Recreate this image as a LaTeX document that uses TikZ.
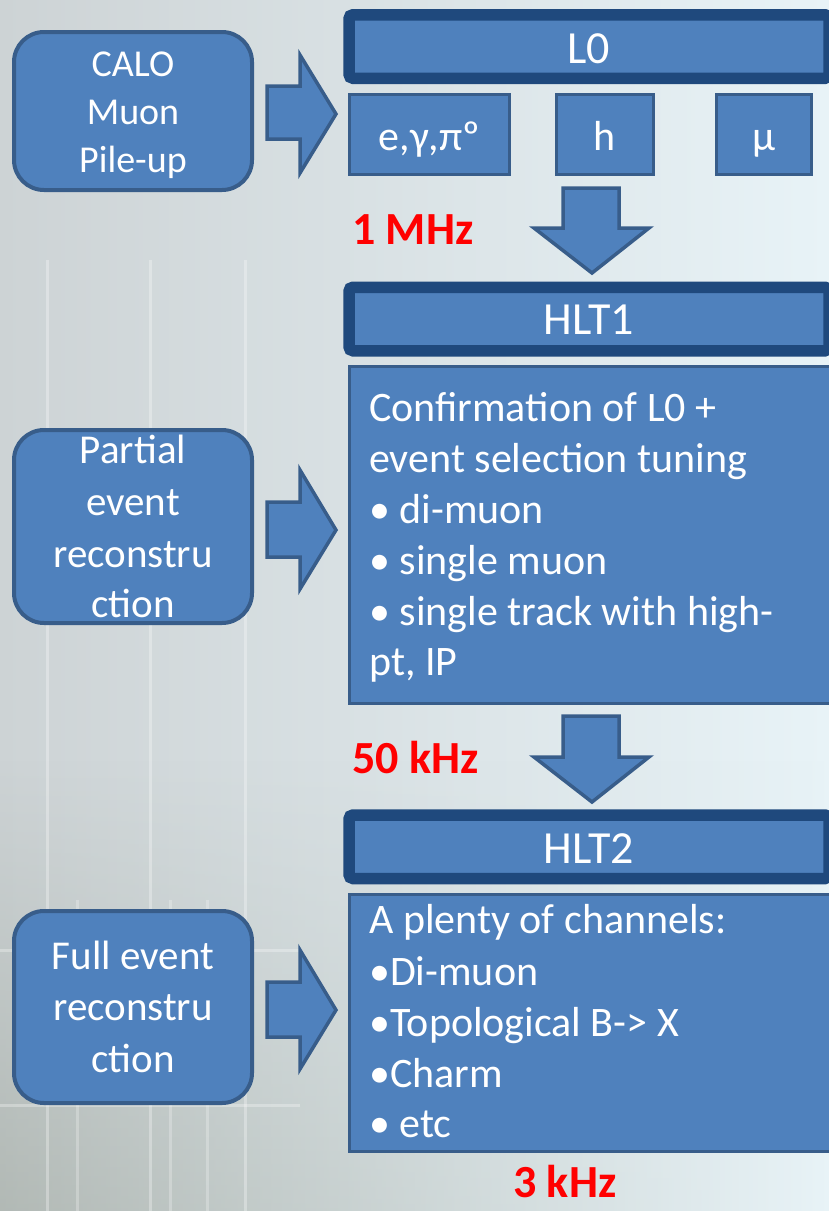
\documentclass[tikz,border=0pt]{standalone}
\usepackage{fontspec}
\setmainfont{Carlito}
\usetikzlibrary{fadings}
\definecolor{boxfill}{RGB}{79,129,189}
\definecolor{boxline}{RGB}{56,93,138}
\definecolor{barline}{RGB}{31,73,125}
\definecolor{bgL}{RGB}{205,211,213}
\definecolor{bgR}{RGB}{232,243,247}
\definecolor{bgD}{RGB}{160,168,160}
\definecolor{rate}{RGB}{255,0,0}
\begin{document}
\begin{tikzpicture}[x=1pt,y=-1pt,
  rbox/.style={draw=boxline, line width=4pt, fill=boxfill, rounded corners=30pt, inner sep=0pt},
  bar/.style={draw=barline, line width=11.5pt, fill=boxfill, rounded corners=4pt, inner sep=0pt,
              minimum width=480pt, minimum height=63.5pt},
  sbox/.style={draw=boxline, line width=3pt, fill=boxfill, inner sep=0pt, minimum height=80pt},
  cbox/.style={draw=boxline, line width=3pt, fill=boxfill, inner sep=0pt, minimum width=500pt},
  blockarrow/.style={draw=boxline, line width=3.5pt, fill=boxfill, line join=miter},
  wt/.style={text=white, inner sep=0pt},
  lefttxt/.style={wt, anchor=base, font=\fontsize{41}{51}\selectfont},
  calotxt/.style={wt, anchor=base, font=\fontsize{38}{48}\selectfont},
  bodytxt/.style={wt, anchor=base west, font=\fontsize{42}{51}\selectfont},
  titletxt/.style={wt, anchor=base, font=\fontsize{46}{52}\selectfont},
  ratetxt/.style={text=rate, inner sep=0pt, anchor=base west, font=\bfseries\fontsize{46}{52}\selectfont},
  tile/.style={white, opacity=0.3, line width=3pt}]
\useasboundingbox (0,0) rectangle (829,1211);
\clip (0,0) rectangle (829,1211);
% background
\shade[left color=bgL, right color=bgR] (0,0) rectangle (829,1211);
\shade[left color=bgD, right color=bgR, opacity=0.6, path fading=north] (0,760) rectangle (829,1211);
\foreach \xx in {47,150,245} \draw[tile] (\xx,260) -- (\xx,1211);
\foreach \xx in {77,170,207} \draw[tile, opacity=0.25] (\xx,900) -- (\xx,1211);
\foreach \yy in {950,1105} \draw[tile, opacity=0.3] (0,\yy) -- (300,\yy);

% ---------- L0 ----------
\node[rbox, minimum width=238pt, minimum height=158pt] (calo) at (133,111) {};
\node[calotxt] (calo1) at (133,76) {CALO};
\node[calotxt] (calo2) at (133,124) {Muon};
\node[calotxt] (calo3) at (133,172) {Pile-up};

\draw[blockarrow] (267,86) -- (300,86) -- (300,55) -- (336,114) -- (300,173) -- (300,139) -- (267,139) -- cycle;

\node[bar] (l0) at (589,46.5) {};
\node[titletxt] (l0t) at (589,63) {L0};

\node[sbox, minimum width=160pt] (egp) at (429.5,134.5) {};
\node[sbox, minimum width=97pt] (had) at (605,134.5) {};
\node[sbox, minimum width=95pt] (mu) at (764,134.5) {};
\node[wt, anchor=base, font=\fontsize{42}{50}\selectfont] (egpt) at (429.5,150) {e,γ,πº};
\node[wt, anchor=base, font=\fontsize{42}{50}\selectfont] (hadt) at (605,150) {h};
\node[wt, anchor=base, font=\fontsize{42}{50}\selectfont] (mut) at (764,150) {μ};

\node[ratetxt] (r1) at (352,244) {1 MHz};
\draw[blockarrow] (563,188) -- (619,188) -- (619,228) -- (649,228) -- (592,273) -- (534,228) -- (563,228) -- cycle;

% ---------- HLT1 ----------
\node[bar] (hlt1) at (589,319) {};
\node[titletxt] (hlt1t) at (589,334) {HLT1};

\node[cbox, minimum height=337pt, anchor=west] (hlt1b) at (347.5,535) {};
\node[bodytxt] (b11) at (369,421) {Confirmation of L0 +};
\node[bodytxt] (b12) at (369,472) {event selection tuning};
\node[bodytxt] (b13) at (369,523) {• di-muon};
\node[bodytxt] (b14) at (369,574) {• single muon};
\node[bodytxt] (b15) at (369,625) {• single track with high-};
\node[bodytxt] (b16) at (369,675) {pt, IP};

\node[rbox, minimum width=238pt, minimum height=193pt] (part) at (133,526.5) {};
\node[lefttxt] (p1) at (133,463) {Partial};
\node[lefttxt] (p2) at (133,515) {event};
\node[lefttxt] (p3) at (133,567) {reconstru};
\node[lefttxt] (p4) at (133,617) {ction};

\draw[blockarrow] (267,502) -- (300,502) -- (300,470) -- (336,530) -- (300,589) -- (300,557) -- (267,557) -- cycle;

\node[ratetxt] (r2) at (352,773) {50 kHz};
\draw[blockarrow] (563,716) -- (619,716) -- (619,757) -- (649,757) -- (592,802) -- (534,757) -- (563,757) -- cycle;

% ---------- HLT2 ----------
\node[bar] (hlt2) at (589,846.75) {};
\node[titletxt] (hlt2t) at (589,863) {HLT2};

\node[cbox, minimum height=257pt, anchor=west] (hlt2b) at (347.5,1023) {};
\node[bodytxt] (b21) at (369,933) {A plenty of channels:};
\node[bodytxt] (b22) at (369,985) {•Di-muon};
\node[bodytxt] (b23) at (369,1036) {•Topological B-> X};
\node[bodytxt] (b24) at (369,1087) {•Charm};
\node[bodytxt] (b25) at (369,1137) {• etc};

\node[rbox, minimum width=238pt, minimum height=192pt] (full) at (133,1007) {};
\node[lefttxt] (f1) at (133,969) {Full event};
\node[lefttxt] (f2) at (133,1020) {reconstru};
\node[lefttxt] (f3) at (133,1072) {ction};

\draw[blockarrow] (267,982) -- (300,982) -- (300,950) -- (336,1010) -- (300,1069) -- (300,1037) -- (267,1037) -- cycle;

\node[ratetxt] (r3) at (513,1197) {3 kHz};
\end{tikzpicture}
\end{document}
